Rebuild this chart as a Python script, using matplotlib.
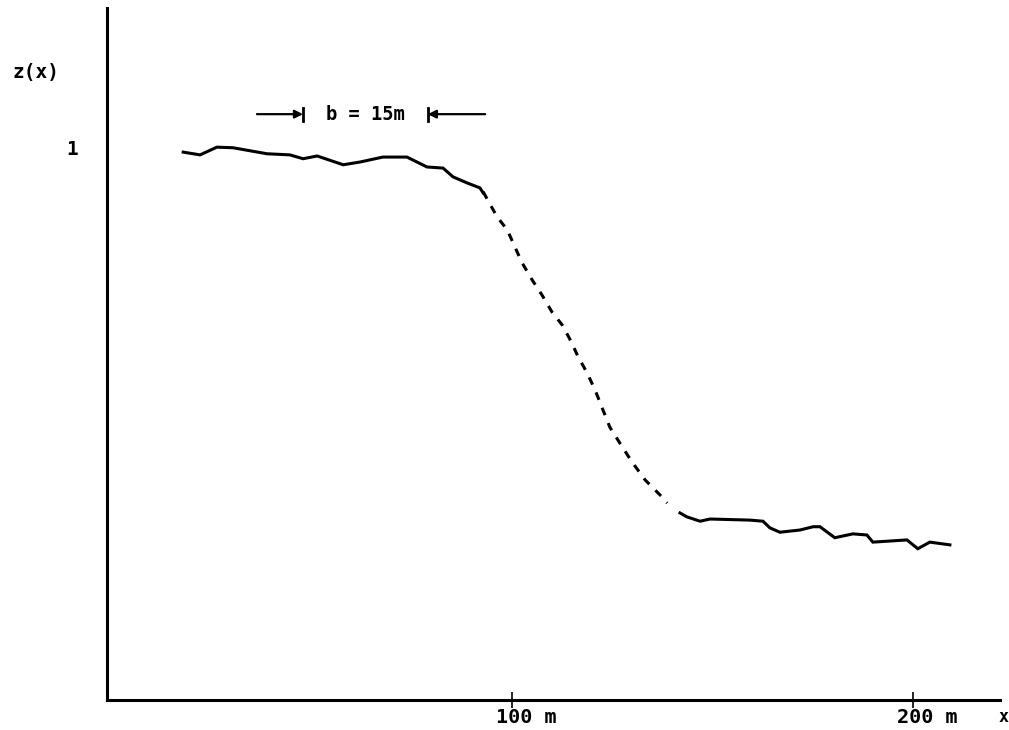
import matplotlib
matplotlib.use('Agg')
import matplotlib.pyplot as plt
import matplotlib.transforms as mtransforms

# ---------------------------------------------------------------------------
# Data (x in metres, z dimensionless)
# ---------------------------------------------------------------------------
x_left = [18.0, 22.2, 26.4, 30.4, 38.9, 44.6, 47.9, 51.4, 57.9, 62.1,
          67.8, 73.8, 78.8, 82.8, 85.3, 88.8, 92.0, 92.8]
z_left = [0.996, 0.991, 1.005, 1.004, 0.993, 0.991, 0.984, 0.989, 0.973, 0.978,
          0.987, 0.987, 0.969, 0.967, 0.951, 0.940, 0.931, 0.922]

x_mid = [92.8, 96.3, 98.8, 100.7, 102.5, 105.0, 107.5, 110.0, 112.5, 114.5,
         116.5, 118.7, 120.7, 122.7, 124.4, 126.9, 129.9, 133.2, 137.7, 138.7]
z_mid = [0.924, 0.878, 0.855, 0.824, 0.795, 0.764, 0.736, 0.705, 0.682, 0.655,
         0.624, 0.595, 0.564, 0.527, 0.496, 0.467, 0.433, 0.400, 0.367, 0.358]

x_right = [141.9, 143.6, 146.9, 149.4, 159.4, 162.6, 164.3, 166.8, 171.8, 175.1,
           176.8, 180.5, 185.0, 188.5, 190.0, 198.5, 201.2, 204.2, 209.2]
z_right = [0.340, 0.333, 0.325, 0.329, 0.327, 0.325, 0.313, 0.305, 0.309, 0.315,
           0.315, 0.295, 0.302, 0.300, 0.287, 0.291, 0.275, 0.287, 0.282]

tick_pos = [100, 200]
tick_labels = ['100 m', '200 m']

FONT = 'DejaVu Sans Mono'
LW = 2.2

fig = plt.figure(figsize=(10.09, 7.30), dpi=100)
W, H = 1009.0, 730.0
ax = fig.add_axes([107 / W, (H - 700) / H, (1000 - 107) / W, (700 - 8) / H])

ax.plot(x_left, z_left, color='black', lw=LW, solid_joinstyle='miter')
ax.plot(x_mid, z_mid, color='black', lw=LW, linestyle=(0, (2.6, 2.8)),
        dash_capstyle='butt')
ax.plot(x_right, z_right, color='black', lw=LW, solid_joinstyle='miter')

ax.set_xlim(-1.0, 221.7)
ax.set_ylim(0.0, 1.258)

for side in ['top', 'right']:
    ax.spines[side].set_visible(False)
for side in ['left', 'bottom']:
    ax.spines[side].set_linewidth(LW)

ax.set_xticks(tick_pos)
ax.set_xticklabels(tick_labels, fontsize=14.5, fontweight='bold', family=FONT)
ax.tick_params(axis='x', direction='inout', length=12, width=1.2, pad=0)
# labels in the original sit a little right of the tick
shift = mtransforms.ScaledTranslation(14 / 100, 0, fig.dpi_scale_trans)
for lab in ax.get_xticklabels():
    lab.set_transform(lab.get_transform() + shift)
ax.set_yticks([])

# y label, the level "1" and the x label
ax.text(-1.0 - 95 / 4.01, 1.14, 'z(x)', fontsize=14, fontweight='bold',
        family=FONT, ha='left', va='center')
ax.text(-1.0 - 35 / 4.01, 1.0, '1', fontsize=14, fontweight='bold',
        family=FONT, ha='center', va='center')
ax.text(0.998, -0.025, 'x', transform=ax.transAxes, fontsize=12, fontweight='bold',
        family=FONT, ha='left', va='center', clip_on=False)

# width marker  --->| b = 15m |<---
yb = 1.065
ax.annotate('', xy=(47.9, yb), xytext=(36.4, yb),
            arrowprops=dict(arrowstyle='-|>', color='black', lw=1.6,
                            mutation_scale=12, shrinkA=0, shrinkB=0))
ax.annotate('', xy=(79.0, yb), xytext=(93.3, yb),
            arrowprops=dict(arrowstyle='-|>', color='black', lw=1.6,
                            mutation_scale=12, shrinkA=0, shrinkB=0))
ax.plot([47.9, 47.9], [yb - 0.012, yb + 0.012], color='black', lw=2)
ax.plot([79.0, 79.0], [yb - 0.012, yb + 0.012], color='black', lw=2)
ax.text(63.4, yb, 'b = 15m', fontsize=13.5, fontweight='bold', family=FONT,
        ha='center', va='center')

fig.savefig('out.png', dpi=100)
